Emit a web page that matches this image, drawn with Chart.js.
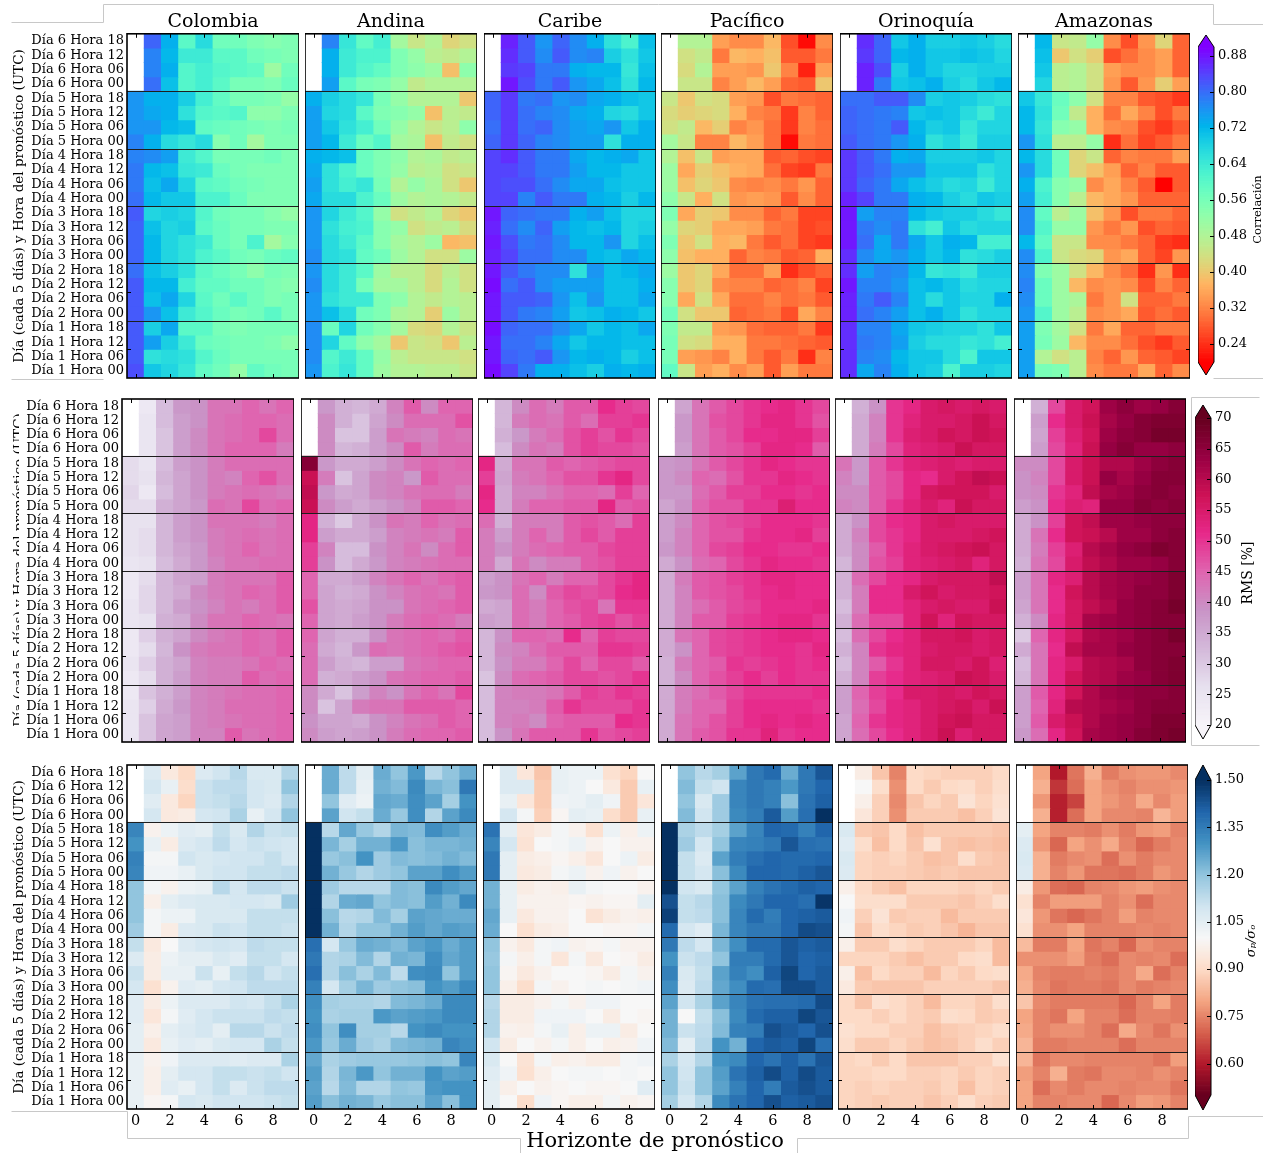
<!DOCTYPE html>
<html>
<head>
<meta charset="utf-8">
<script src="https://cdn.jsdelivr.net/npm/chart.js@4.4.1/dist/chart.umd.min.js"></script>
<style>
body{margin:0;background:#fff}
#lienzo{position:relative;width:1263px;height:1153px;overflow:hidden;background:#fff}
#lienzo canvas{position:absolute}
.texto{position:absolute;font-family:'DejaVu Serif',serif;color:#000;white-space:nowrap;line-height:1}
</style>
</head>
<body>
<div id="lienzo"></div>
<script>
const SERIF = "'DejaVu Serif', serif";

// Categorías y etiquetas
const regiones = ["Colombia", "Andina", "Caribe", "Pacífico", "Orinoquía", "Amazonas"];
const horizonte = ["0", "1", "2", "3", "4", "5", "6", "7", "8", "9"];
const filas = [
    "Día 6 Hora 18", "Día 6 Hora 12", "Día 6 Hora 06", "Día 6 Hora 00",
    "Día 5 Hora 18", "Día 5 Hora 12", "Día 5 Hora 06", "Día 5 Hora 00",
    "Día 4 Hora 18", "Día 4 Hora 12", "Día 4 Hora 06", "Día 4 Hora 00",
    "Día 3 Hora 18", "Día 3 Hora 12", "Día 3 Hora 06", "Día 3 Hora 00",
    "Día 2 Hora 18", "Día 2 Hora 12", "Día 2 Hora 06", "Día 2 Hora 00",
    "Día 1 Hora 18", "Día 1 Hora 12", "Día 1 Hora 06", "Día 1 Hora 00"
];
const ticksCorrelacion = [0.24, 0.32, 0.40, 0.48, 0.56, 0.64, 0.72, 0.80, 0.88];
const ticksRms = [20, 25, 30, 35, 40, 45, 50, 55, 60, 65, 70];
const ticksSigma = [0.60, 0.75, 0.90, 1.05, 1.20, 1.35, 1.50];

// Correlación (filas de arriba a abajo, columnas = horizonte 0..9)
const corColombia = [
    [null,0.81,0.73,0.60,0.67,0.57,0.57,0.55,0.54,0.55],
    [null,0.78,0.72,0.64,0.64,0.60,0.60,0.57,0.56,0.55],
    [null,0.78,0.73,0.61,0.63,0.61,0.60,0.59,0.51,0.57],
    [null,0.80,0.71,0.61,0.63,0.60,0.56,0.56,0.55,0.58],
    [0.76,0.73,0.73,0.69,0.63,0.59,0.56,0.56,0.55,0.52],
    [0.76,0.74,0.73,0.66,0.61,0.60,0.61,0.53,0.53,0.55],
    [0.76,0.76,0.72,0.71,0.59,0.58,0.57,0.56,0.55,0.56],
    [0.78,0.73,0.67,0.65,0.67,0.54,0.57,0.50,0.55,0.55],
    [0.78,0.77,0.75,0.64,0.61,0.56,0.56,0.56,0.57,0.55],
    [0.79,0.72,0.71,0.65,0.64,0.58,0.56,0.55,0.55,0.55],
    [0.79,0.71,0.74,0.68,0.60,0.59,0.57,0.56,0.55,0.55],
    [0.80,0.72,0.70,0.70,0.62,0.62,0.58,0.55,0.55,0.55],
    [0.82,0.68,0.69,0.68,0.61,0.57,0.56,0.56,0.54,0.52],
    [0.81,0.71,0.68,0.69,0.60,0.58,0.56,0.56,0.55,0.55],
    [0.81,0.72,0.68,0.66,0.64,0.58,0.56,0.62,0.50,0.54],
    [0.81,0.72,0.68,0.66,0.62,0.60,0.57,0.56,0.58,0.59],
    [0.80,0.71,0.69,0.66,0.60,0.58,0.56,0.53,0.56,0.55],
    [0.82,0.72,0.72,0.63,0.59,0.59,0.57,0.57,0.55,0.54],
    [0.82,0.71,0.74,0.68,0.60,0.57,0.60,0.57,0.55,0.56],
    [0.82,0.76,0.71,0.64,0.61,0.58,0.56,0.57,0.60,0.56],
    [0.82,0.69,0.74,0.60,0.60,0.56,0.55,0.56,0.56,0.56],
    [0.82,0.75,0.69,0.64,0.58,0.57,0.56,0.56,0.55,0.53],
    [0.82,0.66,0.67,0.66,0.61,0.58,0.56,0.56,0.56,0.56],
    [0.83,0.70,0.68,0.65,0.59,0.57,0.52,0.59,0.57,0.56]
];
const corAndina = [
    [null,0.78,0.65,0.59,0.63,0.50,0.45,0.48,0.42,0.44],
    [null,0.73,0.64,0.62,0.62,0.55,0.52,0.47,0.46,0.48],
    [null,0.73,0.64,0.61,0.59,0.55,0.53,0.51,0.39,0.53],
    [null,0.75,0.60,0.56,0.55,0.52,0.46,0.48,0.48,0.48],
    [0.73,0.69,0.67,0.65,0.56,0.52,0.48,0.48,0.48,0.40],
    [0.75,0.68,0.67,0.60,0.55,0.54,0.52,0.39,0.47,0.46],
    [0.75,0.70,0.66,0.63,0.57,0.52,0.48,0.45,0.47,0.53],
    [0.75,0.72,0.64,0.58,0.61,0.50,0.49,0.39,0.46,0.44],
    [0.73,0.72,0.71,0.58,0.55,0.53,0.48,0.49,0.46,0.47],
    [0.74,0.66,0.62,0.58,0.55,0.52,0.47,0.48,0.44,0.45],
    [0.75,0.66,0.63,0.65,0.56,0.48,0.52,0.49,0.44,0.40],
    [0.74,0.67,0.67,0.62,0.58,0.51,0.48,0.49,0.48,0.46],
    [0.76,0.68,0.64,0.61,0.52,0.44,0.46,0.48,0.42,0.40],
    [0.76,0.66,0.63,0.62,0.54,0.52,0.44,0.46,0.47,0.43],
    [0.76,0.67,0.64,0.60,0.54,0.50,0.48,0.51,0.38,0.39],
    [0.77,0.67,0.66,0.59,0.57,0.51,0.48,0.44,0.44,0.51],
    [0.76,0.67,0.64,0.60,0.51,0.47,0.47,0.43,0.47,0.44],
    [0.77,0.67,0.64,0.56,0.50,0.50,0.47,0.43,0.48,0.44],
    [0.76,0.66,0.64,0.64,0.55,0.53,0.48,0.46,0.48,0.47],
    [0.76,0.71,0.67,0.57,0.55,0.49,0.48,0.41,0.51,0.47],
    [0.77,0.58,0.68,0.57,0.54,0.50,0.43,0.42,0.48,0.45],
    [0.77,0.68,0.59,0.53,0.50,0.40,0.45,0.44,0.40,0.47],
    [0.77,0.61,0.64,0.59,0.52,0.47,0.45,0.45,0.45,0.44],
    [0.76,0.62,0.65,0.59,0.51,0.48,0.48,0.47,0.47,0.45]
];
const corCaribe = [
    [null,0.87,0.82,0.76,0.81,0.77,0.73,0.66,0.62,0.71],
    [null,0.86,0.82,0.77,0.82,0.77,0.78,0.69,0.66,0.70],
    [null,0.85,0.84,0.79,0.79,0.73,0.72,0.72,0.65,0.71],
    [null,0.88,0.83,0.79,0.82,0.76,0.74,0.71,0.66,0.72],
    [0.81,0.85,0.79,0.80,0.76,0.77,0.74,0.73,0.71,0.70],
    [0.81,0.85,0.80,0.78,0.77,0.74,0.73,0.68,0.67,0.70],
    [0.80,0.85,0.80,0.81,0.77,0.75,0.74,0.76,0.70,0.73],
    [0.81,0.85,0.81,0.78,0.77,0.75,0.75,0.66,0.73,0.73],
    [0.84,0.86,0.82,0.79,0.79,0.74,0.72,0.73,0.74,0.70],
    [0.84,0.84,0.82,0.79,0.79,0.75,0.72,0.72,0.70,0.70],
    [0.84,0.83,0.83,0.80,0.77,0.74,0.74,0.71,0.70,0.70],
    [0.84,0.84,0.78,0.82,0.79,0.79,0.73,0.72,0.69,0.72],
    [0.88,0.81,0.80,0.79,0.79,0.73,0.75,0.71,0.68,0.68],
    [0.87,0.80,0.77,0.81,0.75,0.72,0.71,0.72,0.68,0.69],
    [0.88,0.83,0.79,0.80,0.77,0.72,0.72,0.76,0.68,0.71],
    [0.87,0.84,0.80,0.80,0.77,0.77,0.72,0.71,0.74,0.72],
    [0.88,0.82,0.79,0.77,0.77,0.66,0.76,0.71,0.72,0.74],
    [0.89,0.80,0.82,0.77,0.75,0.75,0.75,0.71,0.71,0.73],
    [0.88,0.82,0.82,0.81,0.76,0.71,0.76,0.71,0.71,0.74],
    [0.88,0.82,0.79,0.78,0.75,0.70,0.71,0.73,0.72,0.70],
    [0.89,0.81,0.80,0.80,0.77,0.74,0.70,0.72,0.71,0.74],
    [0.88,0.80,0.80,0.78,0.74,0.70,0.72,0.72,0.71,0.71],
    [0.88,0.81,0.80,0.82,0.76,0.72,0.73,0.72,0.69,0.71],
    [0.89,0.84,0.79,0.73,0.73,0.71,0.69,0.73,0.72,0.73]
];
const corPacifico = [
    [null,0.48,0.48,0.35,0.33,0.33,0.38,0.27,0.21,0.33],
    [null,0.44,0.46,0.31,0.38,0.37,0.39,0.28,0.28,0.31],
    [null,0.43,0.48,0.35,0.35,0.34,0.40,0.32,0.23,0.35],
    [null,0.45,0.45,0.32,0.35,0.38,0.35,0.29,0.28,0.40],
    [0.45,0.40,0.44,0.43,0.35,0.34,0.27,0.31,0.30,0.29],
    [0.43,0.41,0.42,0.43,0.37,0.32,0.31,0.25,0.32,0.29],
    [0.44,0.46,0.38,0.41,0.32,0.34,0.30,0.25,0.32,0.30],
    [0.50,0.45,0.32,0.32,0.38,0.35,0.30,0.21,0.31,0.30],
    [0.48,0.39,0.45,0.35,0.36,0.36,0.28,0.29,0.27,0.26],
    [0.51,0.36,0.41,0.39,0.37,0.36,0.30,0.26,0.25,0.31],
    [0.51,0.39,0.42,0.40,0.33,0.32,0.33,0.31,0.34,0.29],
    [0.53,0.45,0.37,0.44,0.34,0.35,0.34,0.28,0.33,0.29],
    [0.55,0.36,0.41,0.40,0.33,0.33,0.29,0.31,0.26,0.26],
    [0.52,0.42,0.41,0.36,0.36,0.35,0.31,0.30,0.26,0.27],
    [0.55,0.40,0.44,0.37,0.38,0.31,0.28,0.30,0.26,0.25],
    [0.53,0.39,0.37,0.37,0.29,0.32,0.31,0.28,0.29,0.37],
    [0.51,0.40,0.42,0.36,0.30,0.30,0.35,0.24,0.27,0.29],
    [0.54,0.40,0.42,0.33,0.32,0.32,0.29,0.30,0.32,0.26],
    [0.54,0.36,0.44,0.36,0.30,0.30,0.32,0.30,0.31,0.28],
    [0.57,0.44,0.40,0.40,0.29,0.30,0.31,0.27,0.36,0.32],
    [0.55,0.46,0.46,0.35,0.34,0.30,0.29,0.29,0.31,0.25],
    [0.56,0.44,0.43,0.37,0.37,0.31,0.31,0.30,0.29,0.28],
    [0.56,0.35,0.34,0.32,0.37,0.31,0.28,0.31,0.24,0.32],
    [0.59,0.45,0.35,0.37,0.33,0.35,0.28,0.35,0.31,0.31]
];
const corOrinoquia = [
    [null,0.86,0.81,0.70,0.73,0.69,0.69,0.70,0.69,0.67],
    [null,0.85,0.81,0.72,0.73,0.70,0.70,0.71,0.70,0.68],
    [null,0.87,0.83,0.69,0.73,0.70,0.68,0.68,0.69,0.69],
    [null,0.87,0.79,0.70,0.71,0.73,0.69,0.67,0.70,0.72],
    [0.80,0.80,0.82,0.82,0.77,0.69,0.70,0.69,0.67,0.66],
    [0.81,0.80,0.79,0.78,0.70,0.71,0.70,0.67,0.64,0.68],
    [0.81,0.80,0.79,0.82,0.72,0.69,0.70,0.65,0.68,0.68],
    [0.82,0.80,0.79,0.76,0.73,0.66,0.68,0.64,0.69,0.69],
    [0.85,0.82,0.79,0.73,0.74,0.69,0.69,0.69,0.70,0.68],
    [0.85,0.82,0.80,0.76,0.76,0.70,0.70,0.70,0.66,0.68],
    [0.85,0.81,0.79,0.74,0.71,0.69,0.67,0.68,0.64,0.68],
    [0.87,0.84,0.79,0.79,0.73,0.72,0.69,0.67,0.70,0.69],
    [0.88,0.75,0.78,0.78,0.72,0.70,0.69,0.69,0.67,0.65],
    [0.88,0.79,0.77,0.79,0.66,0.63,0.70,0.67,0.68,0.68],
    [0.88,0.80,0.74,0.79,0.74,0.70,0.73,0.72,0.63,0.63],
    [0.86,0.77,0.74,0.76,0.73,0.70,0.72,0.66,0.67,0.69],
    [0.86,0.75,0.78,0.77,0.72,0.65,0.66,0.64,0.69,0.69],
    [0.88,0.78,0.78,0.76,0.71,0.72,0.70,0.67,0.68,0.68],
    [0.87,0.79,0.82,0.78,0.71,0.67,0.70,0.68,0.68,0.73],
    [0.87,0.80,0.78,0.75,0.71,0.73,0.70,0.66,0.68,0.68],
    [0.86,0.78,0.78,0.74,0.70,0.69,0.68,0.68,0.66,0.70],
    [0.86,0.79,0.78,0.75,0.69,0.67,0.67,0.65,0.66,0.63],
    [0.86,0.78,0.77,0.72,0.70,0.70,0.67,0.62,0.70,0.70],
    [0.86,0.74,0.78,0.73,0.70,0.69,0.62,0.69,0.69,0.68]
];
const corAmazonas = [
    [null,0.72,0.45,0.46,0.52,0.33,0.27,0.34,0.42,0.29],
    [null,0.71,0.40,0.44,0.41,0.27,0.30,0.33,0.35,0.29],
    [null,0.70,0.47,0.48,0.44,0.35,0.33,0.33,0.35,0.29],
    [null,0.68,0.47,0.48,0.44,0.34,0.28,0.34,0.41,0.35],
    [0.70,0.65,0.58,0.53,0.44,0.32,0.32,0.28,0.27,0.25],
    [0.72,0.66,0.57,0.46,0.37,0.30,0.36,0.32,0.27,0.31],
    [0.72,0.65,0.54,0.52,0.37,0.33,0.32,0.27,0.25,0.28],
    [0.76,0.66,0.47,0.47,0.52,0.24,0.30,0.26,0.28,0.31],
    [0.72,0.67,0.57,0.42,0.45,0.29,0.32,0.31,0.31,0.35],
    [0.76,0.67,0.57,0.42,0.39,0.35,0.29,0.32,0.28,0.28],
    [0.73,0.62,0.54,0.52,0.33,0.36,0.32,0.28,0.20,0.28],
    [0.75,0.63,0.54,0.47,0.38,0.36,0.34,0.29,0.29,0.29],
    [0.77,0.59,0.47,0.51,0.39,0.34,0.27,0.31,0.31,0.29],
    [0.77,0.61,0.52,0.52,0.34,0.31,0.34,0.27,0.29,0.28],
    [0.72,0.59,0.45,0.45,0.33,0.33,0.31,0.29,0.25,0.24],
    [0.77,0.62,0.45,0.43,0.42,0.34,0.36,0.29,0.26,0.34],
    [0.77,0.55,0.51,0.44,0.38,0.33,0.30,0.24,0.34,0.24],
    [0.78,0.58,0.51,0.38,0.33,0.34,0.33,0.27,0.32,0.29],
    [0.77,0.58,0.51,0.49,0.31,0.34,0.44,0.29,0.29,0.31],
    [0.76,0.61,0.51,0.47,0.33,0.34,0.36,0.28,0.30,0.28],
    [0.75,0.55,0.50,0.44,0.31,0.36,0.29,0.29,0.31,0.31],
    [0.75,0.56,0.51,0.38,0.33,0.33,0.30,0.27,0.25,0.28],
    [0.75,0.48,0.44,0.47,0.32,0.29,0.34,0.29,0.28,0.26],
    [0.75,0.56,0.55,0.47,0.33,0.31,0.31,0.36,0.29,0.33]
];

// RMS [%]
const rmsColombia = [
    [null,24,32,38,39,43,43,45,43,45],
    [null,25,32,37,39,43,44,45,45,44],
    [null,25,31,37,40,43,44,45,48,44],
    [null,25,31,37,40,43,45,45,45,42],
    [27,25,32,37,39,42,44,44,44,44],
    [27,26,33,36,39,42,41,45,47,44],
    [28,24,32,36,39,42,43,44,43,42],
    [27,27,34,36,38,44,43,48,44,45],
    [26,26,33,37,39,43,43,43,42,44],
    [26,27,33,37,39,42,43,44,43,44],
    [26,27,33,36,38,42,43,45,43,44],
    [25,26,32,35,38,41,43,43,44,44],
    [24,27,33,36,37,42,43,43,43,46],
    [24,28,33,35,40,42,43,45,44,46],
    [25,28,33,37,39,41,43,42,44,46],
    [25,26,34,35,40,43,43,45,44,43],
    [24,29,34,36,40,42,43,45,44,46],
    [24,27,33,39,42,43,43,45,44,46],
    [25,29,34,36,41,42,42,43,45,44],
    [24,27,34,37,41,42,42,46,44,45],
    [24,31,34,37,41,42,43,44,44,45],
    [25,29,35,38,41,42,44,44,44,45],
    [25,31,36,37,41,42,43,44,44,45],
    [25,31,36,37,41,41,46,43,44,45]
];
const rmsAndina = [
    [null,38,34,33,35,41,46,40,45,45],
    [null,40,34,31,36,40,44,44,44,47],
    [null,40,31,31,37,43,42,41,44,43],
    [null,40,33,34,37,40,46,42,44,44],
    [66,38,35,35,37,40,43,45,44,45],
    [58,42,31,36,40,41,38,46,44,44],
    [59,38,35,36,40,41,43,44,44,42],
    [58,40,37,35,37,39,41,46,46,45],
    [52,34,30,35,39,43,42,45,43,44],
    [52,37,35,35,37,41,42,43,42,46],
    [49,41,32,32,39,41,43,40,44,46],
    [49,39,32,35,38,41,42,43,44,44],
    [45,35,35,37,41,43,45,43,45,46],
    [45,36,34,35,39,41,43,44,43,46],
    [47,36,35,36,39,39,43,44,45,46],
    [45,36,35,37,39,42,44,45,44,42],
    [45,36,34,34,39,43,44,45,44,46],
    [44,35,33,38,44,43,44,45,46,47],
    [44,37,34,33,37,37,43,44,45,45],
    [44,34,35,37,39,43,44,45,45,46],
    [40,35,31,37,41,39,43,45,43,48],
    [40,31,36,42,43,43,46,46,46,45],
    [39,36,36,35,39,41,43,44,46,45],
    [40,37,36,37,39,42,44,45,45,46]
];
const rmsCaribe = [
    [null,33,40,44,42,46,46,51,49,48],
    [null,33,42,44,43,46,44,49,49,50],
    [null,34,38,42,44,47,49,47,50,48],
    [null,32,40,43,42,47,49,48,48,47],
    [52,35,43,43,46,45,46,47,48,48],
    [49,36,42,43,45,47,47,50,52,48],
    [52,35,41,41,43,45,45,44,49,45],
    [51,35,42,45,45,46,46,52,46,47],
    [44,34,42,42,42,46,47,46,44,49],
    [42,37,42,45,42,46,48,46,49,49],
    [42,39,42,44,45,46,46,48,49,49],
    [42,35,43,40,42,42,46,47,49,49],
    [37,39,43,45,42,45,45,48,50,52],
    [38,39,44,40,46,48,47,48,51,52],
    [35,36,44,42,45,47,48,43,50,50],
    [37,36,44,42,45,46,48,49,47,49],
    [33,39,45,45,44,51,45,49,48,48],
    [33,40,41,44,46,46,46,50,50,49],
    [33,39,42,42,45,48,45,48,48,46],
    [31,40,44,45,46,48,48,47,48,50],
    [32,41,42,42,43,46,49,48,50,49],
    [32,41,41,42,46,50,48,48,48,50],
    [32,41,42,40,45,46,46,46,51,50],
    [32,39,43,46,46,46,50,47,48,49]
];
const rmsPacifico = [
    [null,36,43,46,48,50,51,52,50,48],
    [null,38,43,47,48,50,52,52,50,47],
    [null,38,43,46,48,51,51,52,52,49],
    [null,37,43,46,47,49,52,52,51,46],
    [38,39,43,46,48,50,52,51,50,50],
    [38,40,45,44,47,50,50,52,51,50],
    [38,38,44,46,49,49,51,51,50,51],
    [36,39,45,47,47,50,50,54,51,51],
    [37,40,45,47,48,49,51,51,51,50],
    [37,41,45,47,47,50,51,51,52,49],
    [38,41,45,48,49,51,51,50,50,51],
    [35,39,44,45,48,50,52,51,51,50],
    [35,42,46,47,49,50,52,52,51,51],
    [35,41,46,47,48,50,51,52,51,51],
    [35,41,44,46,48,49,51,51,51,52],
    [35,41,46,46,49,50,51,52,52,50],
    [35,43,45,48,49,50,51,52,52,51],
    [35,39,45,48,49,50,51,51,50,52],
    [34,42,45,46,50,49,50,51,50,51],
    [34,40,45,47,49,51,49,51,50,50],
    [35,42,44,46,48,50,50,50,50,51],
    [35,42,45,45,49,51,51,51,51,50],
    [35,43,45,47,49,51,52,51,52,51],
    [35,43,46,47,50,50,53,50,51,51]
];
const rmsOrinoquia = [
    [null,34,39,50,52,55,56,55,56,55],
    [null,35,41,50,53,55,55,56,58,56],
    [null,35,41,50,54,55,57,56,58,57],
    [null,35,42,48,53,54,55,58,56,56],
    [43,38,46,50,53,54,55,54,55,55],
    [41,38,46,48,52,51,55,57,59,58],
    [40,40,46,48,52,56,57,57,57,55],
    [41,40,46,50,53,55,53,58,56,56],
    [35,39,48,51,52,55,56,55,55,55],
    [35,41,48,50,52,55,55,55,56,57],
    [35,40,46,50,53,55,56,57,58,56],
    [33,40,47,49,53,54,55,56,53,56],
    [34,44,48,51,52,55,56,56,56,59],
    [34,42,51,51,55,57,55,56,56,57],
    [32,42,51,51,53,55,56,55,55,58],
    [34,44,48,48,53,57,53,57,56,56],
    [32,44,48,51,53,56,56,57,55,56],
    [34,41,50,52,53,55,56,56,55,56],
    [32,41,46,50,53,56,56,55,57,54],
    [34,41,49,51,53,54,55,58,57,55],
    [37,45,49,51,55,55,56,55,57,56],
    [37,44,48,52,53,55,56,57,55,58],
    [36,45,50,52,53,55,57,58,56,56],
    [36,44,48,51,53,55,58,54,56,56]
];
const rmsAmazonas = [
    [null,34,48,55,57,63,65,63,64,66],
    [null,37,51,55,58,62,64,66,67,67],
    [null,36,49,54,57,63,65,66,68,68],
    [null,37,48,53,58,64,66,64,64,65],
    [40,40,48,55,58,61,61,63,65,66],
    [39,41,48,55,58,64,62,64,66,66],
    [39,40,50,53,59,62,63,65,66,65],
    [37,39,51,54,53,64,64,66,65,66],
    [35,39,49,57,59,63,63,64,65,65],
    [35,43,51,57,58,60,63,63,65,66],
    [35,42,49,54,60,62,64,65,67,66],
    [34,43,48,55,59,61,63,63,64,66],
    [37,43,52,54,60,62,63,64,65,67],
    [37,43,51,57,60,62,63,65,65,67],
    [36,43,51,56,59,61,64,65,66,68],
    [34,40,52,56,62,63,64,65,66,66],
    [30,45,52,56,61,62,63,65,66,68],
    [35,43,51,59,62,62,64,65,66,66],
    [32,43,52,55,60,61,62,65,66,67],
    [33,43,52,57,60,61,63,64,66,67],
    [37,46,52,57,61,63,64,65,65,66],
    [37,45,53,60,61,62,63,65,66,66],
    [37,46,55,58,61,63,64,65,67,67],
    [38,44,52,57,62,63,64,66,67,68]
];

// Cociente de desviaciones sigma_p / sigma_o
const sigColombia = [
    [null,1.07,0.95,0.90,1.07,1.10,1.14,1.08,1.08,1.15],
    [null,1.09,1.04,0.91,1.11,1.13,1.13,1.09,1.08,1.20],
    [null,1.06,0.95,0.89,1.11,1.12,1.14,1.09,1.07,1.15],
    [null,1.09,0.95,0.96,1.09,1.10,1.16,1.04,1.09,1.20],
    [1.33,0.98,1.03,1.06,1.05,1.12,1.08,1.15,1.11,1.12],
    [1.30,1.04,0.96,1.07,1.09,1.13,1.09,1.11,1.10,1.09],
    [1.34,1.01,1.01,1.10,1.08,1.09,1.10,1.10,1.12,1.09],
    [1.33,1.02,1.02,1.04,1.08,1.10,1.10,1.12,1.12,1.13],
    [1.20,1.01,0.98,1.03,1.04,1.14,1.09,1.13,1.13,1.11],
    [1.20,0.97,1.05,1.07,1.08,1.08,1.09,1.09,1.08,1.18],
    [1.20,1.01,1.03,1.03,1.08,1.08,1.08,1.12,1.12,1.12],
    [1.18,1.01,0.96,1.07,1.08,1.11,1.10,1.12,1.12,1.11],
    [1.12,0.95,1.00,1.07,1.09,1.10,1.09,1.13,1.12,1.12],
    [1.07,0.96,1.03,1.05,1.05,1.08,1.06,1.12,1.12,1.09],
    [1.11,0.96,1.04,1.04,1.11,1.04,1.12,1.14,1.10,1.12],
    [1.09,0.92,0.98,1.06,1.05,1.09,1.10,1.13,1.13,1.13],
    [1.06,0.96,1.03,1.07,1.07,1.07,1.10,1.09,1.12,1.16],
    [1.06,0.94,1.01,1.06,1.09,1.11,1.11,1.11,1.13,1.12],
    [1.05,0.97,1.05,1.07,1.09,1.05,1.14,1.14,1.11,1.13],
    [1.05,0.95,1.04,1.06,1.05,1.08,1.09,1.09,1.16,1.12],
    [1.04,0.98,1.02,1.07,1.07,1.07,1.06,1.07,1.07,1.16],
    [1.04,0.97,1.05,1.09,1.09,1.12,1.12,1.11,1.12,1.10],
    [1.04,0.97,1.06,1.04,1.09,1.12,1.07,1.11,1.13,1.13],
    [1.04,0.99,1.01,1.09,1.08,1.10,1.10,1.10,1.11,1.12]
];
const sigAndina = [
    [null,1.25,1.13,1.05,1.25,1.20,1.29,1.14,1.20,1.25],
    [null,1.25,1.13,1.04,1.24,1.22,1.32,1.23,1.21,1.36],
    [null,1.20,1.06,1.03,1.26,1.25,1.31,1.27,1.17,1.30],
    [null,1.27,1.10,1.12,1.25,1.19,1.31,1.15,1.27,1.32],
    [1.50,1.14,1.26,1.19,1.15,1.23,1.22,1.31,1.28,1.25],
    [1.50,1.23,1.17,1.24,1.24,1.29,1.21,1.23,1.23,1.24],
    [1.50,1.19,1.21,1.30,1.18,1.22,1.21,1.22,1.24,1.22],
    [1.50,1.24,1.19,1.15,1.18,1.20,1.27,1.27,1.31,1.28],
    [1.50,1.18,1.14,1.14,1.14,1.22,1.21,1.32,1.28,1.26],
    [1.50,1.15,1.25,1.26,1.20,1.22,1.21,1.28,1.24,1.32],
    [1.50,1.21,1.14,1.15,1.22,1.17,1.27,1.26,1.25,1.25],
    [1.50,1.24,1.15,1.20,1.20,1.24,1.28,1.26,1.28,1.27],
    [1.38,1.09,1.19,1.25,1.24,1.22,1.27,1.29,1.25,1.28],
    [1.36,1.15,1.16,1.22,1.15,1.24,1.23,1.31,1.26,1.28],
    [1.38,1.15,1.21,1.16,1.22,1.13,1.31,1.32,1.20,1.28],
    [1.34,1.09,1.17,1.23,1.18,1.20,1.21,1.30,1.28,1.32],
    [1.31,1.17,1.16,1.16,1.15,1.22,1.23,1.25,1.32,1.32],
    [1.30,1.16,1.17,1.17,1.29,1.27,1.28,1.29,1.32,1.32],
    [1.31,1.20,1.31,1.17,1.17,1.14,1.30,1.32,1.30,1.30],
    [1.29,1.19,1.25,1.18,1.16,1.22,1.23,1.24,1.33,1.31],
    [1.26,1.16,1.18,1.19,1.19,1.19,1.20,1.21,1.20,1.33],
    [1.28,1.15,1.23,1.29,1.20,1.24,1.24,1.30,1.27,1.28],
    [1.27,1.14,1.22,1.15,1.15,1.20,1.19,1.29,1.30,1.30],
    [1.28,1.21,1.24,1.23,1.19,1.21,1.21,1.27,1.21,1.30]
];
const sigCaribe = [
    [null,1.07,0.94,0.86,1.04,1.03,1.03,0.92,0.89,1.00],
    [null,1.07,1.07,0.87,1.04,1.03,1.00,0.95,0.87,1.04],
    [null,1.04,0.94,0.87,1.02,1.03,1.05,1.02,0.87,0.94],
    [null,1.09,1.01,0.88,0.99,1.05,1.04,0.91,0.87,1.04],
    [1.37,1.05,0.94,0.96,1.01,0.98,0.92,1.03,0.97,1.03],
    [1.33,1.09,0.93,1.00,1.01,1.03,0.98,1.00,0.98,0.98],
    [1.36,1.05,0.96,0.97,0.99,0.97,0.94,1.00,1.03,0.96],
    [1.36,1.05,0.95,0.96,1.01,1.03,0.98,1.02,0.98,1.00],
    [1.24,1.04,0.96,0.98,0.97,1.04,1.01,1.00,1.00,0.98],
    [1.24,1.04,0.98,0.98,0.98,0.99,0.98,0.99,0.99,1.05],
    [1.26,1.04,0.95,0.98,0.98,1.00,0.93,0.96,0.98,0.97],
    [1.25,1.00,0.92,0.96,0.97,1.00,1.00,0.99,0.99,1.01],
    [1.20,0.98,0.95,1.01,1.02,0.98,0.99,1.01,0.98,0.98],
    [1.19,1.01,0.97,1.01,0.94,1.01,0.95,1.00,0.99,0.96],
    [1.20,0.99,0.95,0.98,1.00,1.00,0.99,0.96,1.01,0.98],
    [1.20,0.97,0.91,1.01,0.98,1.00,1.01,1.00,1.01,1.02],
    [1.14,0.96,0.96,0.98,1.01,0.98,1.02,1.02,1.00,1.00],
    [1.15,0.96,0.96,1.02,1.02,1.02,1.00,0.96,1.00,0.99],
    [1.15,0.98,0.97,1.01,1.04,0.97,1.03,1.03,0.96,1.00],
    [1.10,0.96,1.00,0.98,1.01,0.97,1.00,0.97,0.98,1.02],
    [1.08,1.00,0.93,1.01,0.97,0.98,0.96,0.96,1.01,1.02],
    [1.06,1.02,0.92,0.97,1.00,1.01,1.01,1.00,1.01,1.00],
    [1.05,0.97,1.00,0.98,0.99,1.00,0.99,0.99,1.00,1.06],
    [1.05,1.00,0.91,1.02,0.99,0.97,0.97,1.01,0.98,0.99]
];
const sigPacifico = [
    [null,1.20,1.14,1.17,1.27,1.36,1.39,1.25,1.36,1.43],
    [null,1.22,1.12,1.10,1.33,1.36,1.34,1.29,1.36,1.40],
    [null,1.20,1.08,1.18,1.33,1.36,1.34,1.21,1.37,1.41],
    [null,1.22,1.10,1.18,1.32,1.35,1.42,1.28,1.38,1.50],
    [1.50,1.16,1.13,1.17,1.27,1.33,1.40,1.39,1.34,1.40],
    [1.50,1.18,1.09,1.20,1.33,1.34,1.36,1.43,1.38,1.37],
    [1.50,1.12,1.07,1.27,1.35,1.38,1.40,1.39,1.39,1.40],
    [1.50,1.12,1.09,1.21,1.32,1.40,1.40,1.39,1.41,1.43],
    [1.50,1.10,1.08,1.20,1.27,1.34,1.37,1.39,1.41,1.40],
    [1.44,1.12,1.14,1.21,1.32,1.36,1.40,1.40,1.38,1.49],
    [1.47,1.12,1.13,1.21,1.33,1.39,1.35,1.40,1.41,1.42],
    [1.39,1.09,1.06,1.23,1.33,1.36,1.36,1.40,1.45,1.44],
    [1.36,1.13,1.09,1.23,1.31,1.39,1.39,1.43,1.41,1.42],
    [1.30,1.11,1.13,1.20,1.35,1.35,1.39,1.43,1.40,1.41],
    [1.34,1.08,1.12,1.27,1.34,1.31,1.41,1.46,1.40,1.42],
    [1.31,1.07,1.13,1.26,1.31,1.39,1.38,1.45,1.45,1.42],
    [1.27,1.10,1.16,1.27,1.33,1.37,1.38,1.38,1.39,1.45],
    [1.24,1.00,1.12,1.21,1.32,1.39,1.41,1.41,1.46,1.43],
    [1.24,1.11,1.13,1.22,1.34,1.35,1.44,1.42,1.40,1.44],
    [1.22,1.05,1.14,1.30,1.24,1.40,1.42,1.41,1.46,1.38],
    [1.16,1.09,1.15,1.30,1.32,1.40,1.37,1.41,1.37,1.43],
    [1.20,1.10,1.20,1.28,1.37,1.41,1.45,1.41,1.45,1.42],
    [1.20,1.11,1.20,1.27,1.34,1.40,1.35,1.42,1.44,1.42],
    [1.17,1.09,1.15,1.32,1.37,1.40,1.44,1.41,1.42,1.44]
];
const sigOrinoquia = [
    [null,0.96,0.86,0.75,0.90,0.89,0.88,0.88,0.88,0.90],
    [null,1.00,0.91,0.77,0.90,0.87,0.90,0.91,0.88,0.91],
    [null,0.97,0.88,0.76,0.86,0.89,0.87,0.93,0.89,0.92],
    [null,0.94,0.88,0.77,0.87,0.87,0.87,0.85,0.88,0.93],
    [1.08,0.87,0.86,0.90,0.85,0.87,0.87,0.87,0.87,0.86],
    [1.06,0.91,0.85,0.90,0.86,0.92,0.86,0.85,0.86,0.85],
    [1.08,0.89,0.88,0.89,0.87,0.85,0.86,0.91,0.87,0.86],
    [1.07,0.89,0.88,0.88,0.87,0.86,0.87,0.86,0.86,0.86],
    [0.97,0.90,0.87,0.85,0.89,0.89,0.89,0.88,0.89,0.87],
    [1.00,0.91,0.91,0.91,0.87,0.87,0.87,0.86,0.88,0.91],
    [1.02,0.88,0.93,0.87,0.88,0.88,0.84,0.87,0.87,0.87],
    [1.01,0.86,0.91,0.89,0.87,0.88,0.86,0.83,0.86,0.86],
    [0.97,0.87,0.87,0.91,0.89,0.87,0.87,0.87,0.89,0.84],
    [0.89,0.89,0.89,0.87,0.85,0.87,0.87,0.90,0.91,0.84],
    [0.97,0.85,0.90,0.88,0.88,0.84,0.89,0.87,0.90,0.91],
    [0.95,0.87,0.86,0.86,0.86,0.88,0.88,0.88,0.88,0.86],
    [0.90,0.86,0.92,0.90,0.88,0.84,0.89,0.89,0.87,0.91],
    [0.90,0.90,0.88,0.90,0.88,0.87,0.91,0.90,0.87,0.88],
    [0.92,0.90,0.90,0.88,0.88,0.85,0.87,0.88,0.89,0.91],
    [0.91,0.87,0.87,0.89,0.87,0.85,0.86,0.88,0.91,0.88],
    [0.89,0.90,0.87,0.90,0.86,0.86,0.86,0.88,0.88,0.92],
    [0.89,0.89,0.90,0.90,0.88,0.88,0.89,0.87,0.89,0.88],
    [0.89,0.88,0.89,0.88,0.88,0.87,0.89,0.85,0.89,0.88],
    [0.89,0.88,0.87,0.88,0.88,0.86,0.88,0.91,0.88,0.87]
];
const sigAmazonas = [
    [null,0.80,0.60,0.73,0.82,0.74,0.77,0.78,0.78,0.76],
    [null,0.82,0.64,0.72,0.80,0.77,0.75,0.77,0.77,0.78],
    [null,0.78,0.61,0.66,0.80,0.78,0.76,0.81,0.76,0.79],
    [null,0.82,0.61,0.72,0.80,0.76,0.76,0.75,0.83,0.79],
    [1.05,0.80,0.75,0.75,0.74,0.77,0.74,0.78,0.79,0.75],
    [1.07,0.78,0.71,0.80,0.77,0.81,0.75,0.71,0.74,0.76],
    [1.08,0.82,0.74,0.76,0.77,0.72,0.77,0.74,0.76,0.76],
    [1.07,0.82,0.75,0.78,0.73,0.73,0.72,0.74,0.78,0.76],
    [0.96,0.78,0.72,0.71,0.75,0.76,0.78,0.79,0.77,0.76],
    [0.92,0.75,0.79,0.79,0.79,0.75,0.77,0.72,0.76,0.76],
    [0.94,0.78,0.73,0.71,0.73,0.75,0.79,0.75,0.76,0.76],
    [0.92,0.77,0.77,0.80,0.75,0.75,0.75,0.76,0.75,0.76],
    [0.84,0.74,0.74,0.80,0.73,0.75,0.71,0.77,0.75,0.75],
    [0.77,0.77,0.77,0.79,0.74,0.72,0.76,0.75,0.76,0.72],
    [0.81,0.75,0.74,0.74,0.75,0.74,0.76,0.81,0.72,0.75],
    [0.82,0.76,0.73,0.74,0.74,0.73,0.76,0.74,0.75,0.76],
    [0.86,0.76,0.74,0.74,0.74,0.74,0.71,0.75,0.80,0.74],
    [0.80,0.75,0.73,0.80,0.75,0.75,0.72,0.75,0.75,0.74],
    [0.81,0.75,0.77,0.77,0.75,0.72,0.81,0.76,0.73,0.77],
    [0.83,0.74,0.74,0.75,0.75,0.75,0.72,0.75,0.75,0.75],
    [0.83,0.73,0.76,0.76,0.75,0.75,0.75,0.75,0.73,0.79],
    [0.79,0.75,0.82,0.74,0.73,0.76,0.76,0.75,0.77,0.75],
    [0.80,0.72,0.76,0.74,0.76,0.76,0.75,0.76,0.76,0.73],
    [0.80,0.75,0.75,0.76,0.76,0.71,0.76,0.79,0.78,0.75]
];

// Mapas de color (rainbow invertido, PuRd, RdBu)
function rgb(r, g, b) {
    const c = v => Math.round(255 * Math.min(1, Math.max(0, v)));
    return `rgb(${c(r)},${c(g)},${c(b)})`;
}
function rainbowInvertido(t) {
    const x = 1 - Math.min(1, Math.max(0, t));
    return rgb(Math.abs(2 * x - 0.5), Math.sin(Math.PI * x), Math.cos(Math.PI * x / 2));
}
function escalaColores(paradas) {
    const cols = paradas.map(h => [1, 3, 5].map(k => parseInt(h.substr(k, 2), 16) / 255));
    return t => {
        const p = Math.min(1, Math.max(0, t)) * (cols.length - 1);
        const i = Math.min(cols.length - 2, Math.floor(p));
        const f = p - i;
        const c = cols[i].map((v, k) => v + (cols[i + 1][k] - v) * f);
        return rgb(c[0], c[1], c[2]);
    };
}
const purpuraRojo = escalaColores(["#f7f4f9","#e7e1ef","#d4b9da","#c994c7","#df65b0","#e7298a","#ce1256","#980043","#67001f"]);
const rojoAzul = escalaColores(["#67001f","#b2182b","#d6604d","#f4a582","#fddbc7","#f7f7f7","#d1e5f0","#92c5de","#4393c3","#2166ac","#053061"]);

// Disposición de las tres filas de paneles
const bloques = [
    {
        datos: [corColombia, corAndina, corCaribe, corPacifico, corOrinoquia, corAmazonas],
        colores: rainbowInvertido, vmin: 0.2, vmax: 0.9, ticks: ticksCorrelacion, decimales: 2,
        top: 34, alto: 344, xs: [127, 305, 484, 661, 840, 1018], titulos: true, ejeX: false,
        barra: {x: 1198, top: 47, bottom: 362, puntaSup: 35, puntaInf: 375},
        etiqueta: "Correlación", etiquetaX: 1258.5, etiquetaDy: 5, fuenteEtiqueta: "11.5px " + SERIF
    },
    {
        datos: [rmsColombia, rmsAndina, rmsCaribe, rmsPacifico, rmsOrinoquia, rmsAmazonas],
        colores: purpuraRojo, vmin: 20, vmax: 70, ticks: ticksRms, decimales: 0,
        top: 399, alto: 343, xs: [122, 301, 478, 658, 835, 1014], titulos: false, ejeX: false,
        barra: {x: 1195, top: 418, bottom: 725, puntaSup: 405, puntaInf: 739},
        etiqueta: "RMS [%]", etiquetaX: 1248, etiquetaDy: 1.5, fuenteEtiqueta: "14px " + SERIF, ylabelCortada: true
    },
    {
        datos: [sigColombia, sigAndina, sigCaribe, sigPacifico, sigOrinoquia, sigAmazonas],
        colores: rojoAzul, vmin: 0.5, vmax: 1.5, ticks: ticksSigma, decimales: 2,
        top: 765, alto: 344, xs: [127, 305, 483, 661, 838, 1016], titulos: false, ejeX: true,
        barra: {x: 1195, top: 780, bottom: 1095, puntaSup: 765, puntaInf: 1110},
        etiqueta: "σₚ/σₒ", etiquetaX: 1252, etiquetaDy: 3.5, fuenteEtiqueta: "italic 13px " + SERIF
    }
];
const ANCHO_PANEL = 172;
const ANCHO_BARRA = 16;
const separadoresDia = [4, 8, 12, 16, 20];
const marcasX = [0, 2, 4, 6, 8];
const marcasY = [2, 6];
const textoEjeY = "Día (cada 5 días) y Hora del pronóstico (UTC)";

const lienzo = document.getElementById("lienzo");

function nuevoCanvas(left, top, w, h) {
    const canvas = document.createElement("canvas");
    canvas.width = w; canvas.height = h;
    canvas.style.left = left + "px"; canvas.style.top = top + "px";
    canvas.style.width = w + "px"; canvas.style.height = h + "px";
    lienzo.appendChild(canvas);
    return canvas;
}

// Crea el gráfico y corrige el lienzo para que el área de datos caiga justo en su sitio
function graficoAjustado(left, top, w, h, cw, ch, configurar) {
    let canvas = nuevoCanvas(0, 0, cw, ch);
    let chart = new Chart(canvas, configurar());
    const dw = Math.round(w - chart.chartArea.width);
    const dh = Math.round(h - chart.chartArea.height);
    if (dw !== 0 || dh !== 0) {
        chart.destroy();
        canvas.remove();
        canvas = nuevoCanvas(0, 0, cw + dw, ch + dh);
        chart = new Chart(canvas, configurar());
    }
    canvas.style.left = (left - chart.chartArea.left) + "px";
    canvas.style.top = (top - chart.chartArea.top) + "px";
    return chart;
}

function texto(contenido, estilo) {
    const div = document.createElement("div");
    div.className = "texto";
    div.textContent = contenido;
    Object.assign(div.style, estilo);
    lienzo.appendChild(div);
    return div;
}

// Marco, separadores de día y marcas internas
const marcoPanel = {
    id: "marcoPanel",
    afterDatasetsDraw(chart) {
        const {ctx, chartArea: a, scales: {x, y}} = chart;
        ctx.save();
        ctx.strokeStyle = "#1e1e1e";
        ctx.lineWidth = 1;
        ctx.beginPath();
        separadoresDia.forEach(v => {
            const py = Math.round(y.getPixelForValue(v)) + 0.5;
            ctx.moveTo(a.left, py); ctx.lineTo(a.right, py);
        });
        ctx.stroke();
        ctx.strokeStyle = "#000";
        ctx.beginPath();
        marcasX.forEach(i => {
            const px = Math.round(x.getPixelForValue(i)) + 0.5;
            ctx.moveTo(px, a.top); ctx.lineTo(px, a.top + 4);
            ctx.moveTo(px, a.bottom); ctx.lineTo(px, a.bottom - 4);
        });
        marcasY.forEach(v => {
            const py = Math.round(y.getPixelForValue(v)) + 0.5;
            ctx.moveTo(a.left, py); ctx.lineTo(a.left + 4, py);
            ctx.moveTo(a.right, py); ctx.lineTo(a.right - 4, py);
        });
        ctx.stroke();
        ctx.lineWidth = 1.6;
        ctx.strokeRect(a.left, a.top, a.width, a.height);
        ctx.restore();
    }
};

function mapaCalor(b, j) {
    const left = b.xs[j], top = b.top, w = ANCHO_PANEL, h = b.alto;
    const conEjeY = j === 0;
    const mIzq = conEjeY ? left : 0;
    const mSup = b.titulos ? top : 10;
    const mInf = b.ejeX ? 32 : 10;
    const n = filas.length;
    const configurar = () => ({
        type: "bar",
        data: {
            labels: horizonte,
            datasets: b.datos[j].map((fila, i) => ({
                data: fila.map(v => (v === null ? null : [n - 1 - i, n - i])),
                backgroundColor: fila.map(v => (v === null ? "rgba(0,0,0,0)" : b.colores((v - b.vmin) / (b.vmax - b.vmin)))),
                grouped: false,
                barPercentage: 1,
                categoryPercentage: 1,
                borderWidth: 0,
                inflateAmount: 0.4
            }))
        },
        options: {
            responsive: false,
            maintainAspectRatio: false,
            animation: false,
            devicePixelRatio: 1,
            events: [],
            layout: {padding: {top: b.titulos ? 0 : 10, bottom: b.ejeX ? 0 : 10, left: 0, right: 0}},
            plugins: {
                legend: {display: false},
                tooltip: {enabled: false},
                title: {
                    display: b.titulos, text: regiones[j], fullSize: false, color: "#000",
                    font: {family: SERIF, size: 19, weight: "normal"}, padding: {top: 11, bottom: 0}
                }
            },
            scales: {
                x: {
                    display: b.ejeX,
                    grid: {display: false, drawTicks: false},
                    border: {display: false},
                    ticks: {
                        autoSkip: false, maxRotation: 0, padding: 4, color: "#000",
                        font: {family: SERIF, size: 14.5},
                        callback: (v, i) => (i % 2 === 0 ? horizonte[i] : "")
                    },
                    afterFit: s => { s.height = mInf; }
                },
                y: {
                    display: conEjeY,
                    min: 0, max: n,
                    grid: {display: false, drawTicks: false},
                    border: {display: false},
                    afterBuildTicks: s => { s.ticks = filas.map((_, r) => ({value: r + 0.5})); },
                    ticks: {
                        autoSkip: false, padding: 3, color: "#000",
                        font: {family: SERIF, size: 13, lineHeight: 1},
                        callback: (v, i) => filas[n - 1 - i]
                    },
                    title: {
                        display: conEjeY && !b.ylabelCortada, text: textoEjeY, color: "#000",
                        font: {family: SERIF, size: 13.5}, padding: {top: 11, bottom: 0}
                    },
                    afterFit: s => { s.width = mIzq; }
                }
            }
        },
        plugins: [marcoPanel]
    });
    graficoAjustado(left, top, w, h, mIzq + w, mSup + h + mInf, configurar);
}

function pluginBarra(b) {
    return {
        id: "barraColor",
        afterDraw(chart) {
            const {ctx, chartArea: a, scales: {y}} = chart;
            const cb = b.barra;
            const pasos = 256;
            ctx.save();
            for (let k = 0; k < pasos; k++) {
                const v0 = b.vmin + (b.vmax - b.vmin) * k / pasos;
                const v1 = b.vmin + (b.vmax - b.vmin) * (k + 1) / pasos;
                const y0 = y.getPixelForValue(v0), y1 = y.getPixelForValue(v1);
                ctx.fillStyle = b.colores((k + 0.5) / pasos);
                ctx.fillRect(a.left, y1, a.width, y0 - y1 + 0.7);
            }
            const cx = (a.left + a.right) / 2;
            const tipSup = a.top - (cb.top - cb.puntaSup);
            const tipInf = a.bottom + (cb.puntaInf - cb.bottom);
            ctx.fillStyle = b.colores(1);
            ctx.beginPath();
            ctx.moveTo(a.left, a.top); ctx.lineTo(cx, tipSup); ctx.lineTo(a.right, a.top);
            ctx.closePath(); ctx.fill();
            ctx.fillStyle = b.colores(0);
            ctx.beginPath();
            ctx.moveTo(a.left, a.bottom); ctx.lineTo(cx, tipInf); ctx.lineTo(a.right, a.bottom);
            ctx.closePath(); ctx.fill();
            ctx.strokeStyle = "#000";
            ctx.lineWidth = 1;
            ctx.beginPath();
            ctx.moveTo(a.left, a.top); ctx.lineTo(cx, tipSup); ctx.lineTo(a.right, a.top);
            ctx.lineTo(a.right, a.bottom); ctx.lineTo(cx, tipInf); ctx.lineTo(a.left, a.bottom);
            ctx.closePath(); ctx.stroke();
            ctx.beginPath();
            b.ticks.forEach(v => {
                const py = Math.round(y.getPixelForValue(v)) + 0.5;
                ctx.moveTo(a.right - 4, py); ctx.lineTo(a.right, py);
            });
            ctx.stroke();
            // Etiqueta vertical de la barra
            ctx.translate(a.right + (b.etiquetaX - (cb.x + ANCHO_BARRA)), (a.top + a.bottom) / 2 + b.etiquetaDy);
            ctx.rotate(-Math.PI / 2);
            ctx.font = b.fuenteEtiqueta;
            ctx.fillStyle = "#000";
            ctx.textAlign = "center";
            ctx.textBaseline = "middle";
            ctx.fillText(b.etiqueta, 0, 0);
            ctx.restore();
        }
    };
}

function barraColor(b) {
    const cb = b.barra;
    const cTop = cb.puntaSup - 3, cBot = cb.puntaInf + 3;
    const cw = 1263 - cb.x;
    const configurar = () => ({
        type: "bar",
        data: {labels: [""], datasets: []},
        options: {
            responsive: false,
            maintainAspectRatio: false,
            animation: false,
            devicePixelRatio: 1,
            events: [],
            layout: {padding: {top: cb.top - cTop, bottom: cBot - cb.bottom, left: 0, right: 0}},
            plugins: {legend: {display: false}, tooltip: {enabled: false}},
            scales: {
                x: {display: false},
                y: {
                    position: "right",
                    min: b.vmin, max: b.vmax,
                    grid: {display: false, drawTicks: false},
                    border: {display: false},
                    afterBuildTicks: s => { s.ticks = b.ticks.map(v => ({value: v})); },
                    ticks: {
                        padding: 4, color: "#000",
                        font: {family: SERIF, size: 13},
                        callback: v => Number(v).toFixed(b.decimales)
                    },
                    afterFit: s => { s.width = cw - ANCHO_BARRA; }
                }
            }
        },
        plugins: [pluginBarra(b)]
    });
    graficoAjustado(cb.x, cb.top, ANCHO_BARRA, cb.bottom - cb.top, cw, cBot - cTop, configurar);
}

// Líneas grises de los marcos de la figura original
const fondo = nuevoCanvas(0, 0, 1263, 1153);
(function dibujarFondo() {
    const ctx = fondo.getContext("2d");
    ctx.strokeStyle = "#c8c8c8";
    ctx.lineWidth = 1;
    const trazos = [
        [[11, 22], [103, 22], [103, 4], [1213, 4], [1213, 24], [1263, 24]],
        [[11, 379], [103, 379]],
        [[1213, 378], [1263, 378]],
        [[1259, 397], [1191, 397], [1191, 745], [1259, 745]],
        [[11, 1111], [127, 1111], [127, 1138], [520, 1138], [520, 1153]],
        [[797, 1153], [797, 1138], [1188, 1138], [1188, 1116], [1263, 1116]]
    ];
    trazos.forEach(t => {
        ctx.beginPath();
        t.forEach(([x, y], i) => {
            if (i === 0) {ctx.moveTo(x + 0.5, y + 0.5);} else {ctx.lineTo(x + 0.5, y + 0.5);}
        });
        ctx.stroke();
    });
})();

// Etiqueta del eje Y de la fila central (parcialmente tapada en el original)
texto(textoEjeY, {
    fontSize: "13.5px", left: "19px", top: "570px",
    transform: "translate(-50%, -50%) rotate(-90deg)"
});
texto("", {left: "19px", top: "390px", width: "100px", height: "356px", background: "#fff"});

bloques.forEach(b => {
    b.datos.forEach((_, j) => mapaCalor(b, j));
    barraColor(b);
});

texto("Horizonte de pronóstico", {
    fontSize: "21px", left: "655px", top: "1140px", transform: "translate(-50%, -50%)"
});
</script>
</body>
</html>
